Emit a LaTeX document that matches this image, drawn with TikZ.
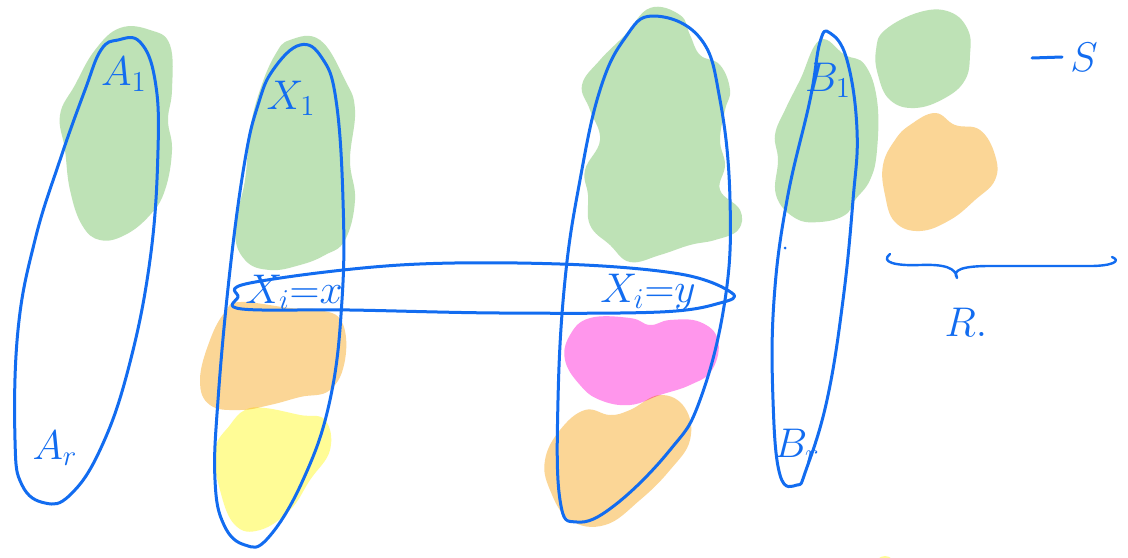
\documentclass[tikz,border=0pt]{standalone}
\usepackage{tikz}
\usetikzlibrary{positioning}
\definecolor{penBlue}{RGB}{18,108,240}
\definecolor{blobGreen}{RGB}{190,226,182}
\definecolor{blobOrange}{RGB}{251,214,150}
\definecolor{blobYellow}{RGB}{255,252,150}
\definecolor{blobPink}{RGB}{255,150,236}

\begin{document}
\begin{tikzpicture}[x=0.5pt, y=-0.5pt,
    every node/.style={font=\fontsize{20}{20}\selectfont, text=penBlue, inner sep=0pt},
    pen/.style={draw=penBlue, line width=1.5pt, line join=round, line cap=round},
    blob/.style={fill=#1, draw=none, blend mode=multiply}]
    \useasboundingbox (0,0) rectangle (1128,557);
    \fill[white] (0,0) rectangle (1128,557);

    % colour patches
    \fill[blob=blobGreen] plot[smooth cycle, tension=0.7] coordinates {(120,28) (150,30) (170,45) (172,90) (168,120) (172,150) (165,190) (150,215) (125,235) (100,240) (82,225) (70,190) (65,150) (60,115) (75,85) (95,50)};
    \fill[blob=blobGreen] plot[smooth cycle, tension=0.7] coordinates {(290,40) (320,40) (345,80) (355,110) (350,160) (355,200) (345,240) (325,255) (300,265) (270,270) (245,260) (235,230) (245,180) (250,130) (260,90) (275,55)};
    \fill[blob=blobOrange] plot[smooth cycle, tension=0.7] coordinates {(240,302) (290,308) (320,310) (342,322) (345,360) (330,390) (300,397) (270,405) (240,410) (210,405) (200,380) (210,340) (225,312)};
    \fill[blob=blobYellow] plot[smooth cycle, tension=0.7] coordinates {(265,408) (300,415) (325,420) (330,450) (310,480) (290,510) (260,530) (235,525) (220,490) (215,450) (230,425) (245,410)};
    \fill[blob=blobGreen] plot[smooth cycle, tension=0.7] coordinates {(650,8) (680,15) (690,35) (700,55) (720,65) (730,90) (725,110) (720,140) (725,165) (720,190) (740,210) (738,230) (715,240) (690,245) (660,255) (630,262) (610,245) (590,225) (588,195) (585,170) (600,140) (590,110) (582,85) (600,60) (625,35)};
    \fill[blob=blobPink] plot[smooth cycle, tension=0.7] coordinates {(590,318) (630,318) (650,325) (670,320) (700,322) (718,340) (712,370) (690,385) (660,395) (630,405) (600,400) (580,385) (565,360) (570,335)};
    \fill[blob=blobOrange] plot[smooth cycle, tension=0.7] coordinates {(660,395) (685,408) (690,440) (670,470) (640,500) (605,525) (570,520) (550,490) (545,460) (560,430) (585,410) (610,415) (630,410)};
    \fill[blob=blobGreen] plot[smooth cycle, tension=0.7] coordinates {(820,40) (845,55) (865,65) (877,100) (877,150) (870,180) (855,200) (845,215) (820,222) (795,218) (776,195) (778,160) (775,135) (785,110) (800,80)};
    \fill[blob=blobGreen] plot[smooth cycle, tension=0.7] coordinates {(920,12) (950,12) (968,30) (970,55) (965,80) (945,98) (915,108) (890,100) (878,75) (876,50) (885,30)};
    \fill[blob=blobOrange] plot[smooth cycle, tension=0.7] coordinates {(935,113) (955,125) (980,130) (995,155) (995,180) (975,200) (950,220) (920,231) (895,222) (885,195) (883,165) (895,140) (910,125)};
    \fill[blobYellow] (885,566) circle (10);

    % loops
    \draw[pen] plot[smooth cycle, tension=0.7] coordinates {(118,40) (140,42) (155,80) (158,150) (150,260) (128,370) (100,450) (70,495) (45,503) (22,485) (15,440) (18,330) (35,240) (60,160) (85,90) (101,50)};
    \draw[pen] plot[smooth cycle, tension=0.7] coordinates {(300,45) (322,58) (336,100) (343,200) (342,300) (330,400) (303,480) (268,538) (245,545) (224,525) (215,480) (218,400) (230,270) (245,160) (258,105) (273,70)};
    \draw[pen] plot[smooth cycle, tension=0.7] coordinates {(653,16) (700,38) (720,100) (730,200) (725,300) (700,400) (670,450) (615,505) (577,522) (560,500) (558,400) (565,280) (580,180) (600,90) (625,38)};
    \draw[pen] plot[smooth cycle, tension=0.7] coordinates {(830,33) (847,60) (857,130) (853,200) (843,300) (827,400) (806,470) (797,485) (780,475) (773,400) (774,300) (787,200) (810,100) (820,42)};
    \draw[pen] plot[smooth cycle, tension=0.6] coordinates {(250,283) (400,265) (560,264) (680,274) (732,293) (720,303) (660,312) (500,313) (350,310) (242,309) (238,297)};

    % brace under the patches
    \draw[pen, line width=1.2pt] (890,254) .. controls (880,262) and (895,266) .. (920,265)
        .. controls (945,264) and (956,268) .. (957,278)
        .. controls (952,270) and (962,266) .. (990,266) -- (1090,266)
        .. controls (1112,266) and (1122,261) .. (1112,257);
    \fill[penBlue] (785,248) circle (1.5);
    \draw[pen] (1032,58) -- (1062,57);

    % labels
    \node (a1) at (124,74) {$A_1$};
    \node (ar) at (55,448) {$A_r$};
    \node (x1) at (291,98) {$X_1$};
    \node (xix) at (294,292) {$X_i{=}x$};
    \node (xiy) at (648,292) {$X_i{=}y$};
    \node (b1) at (828,80) {$B_1$};
    \node (br) at (797,446) {$B_r$};
    \node (s) at (1084,57) {$S$};
    \node (r) at (966,322) {$R.$};
\end{tikzpicture}
\end{document}
